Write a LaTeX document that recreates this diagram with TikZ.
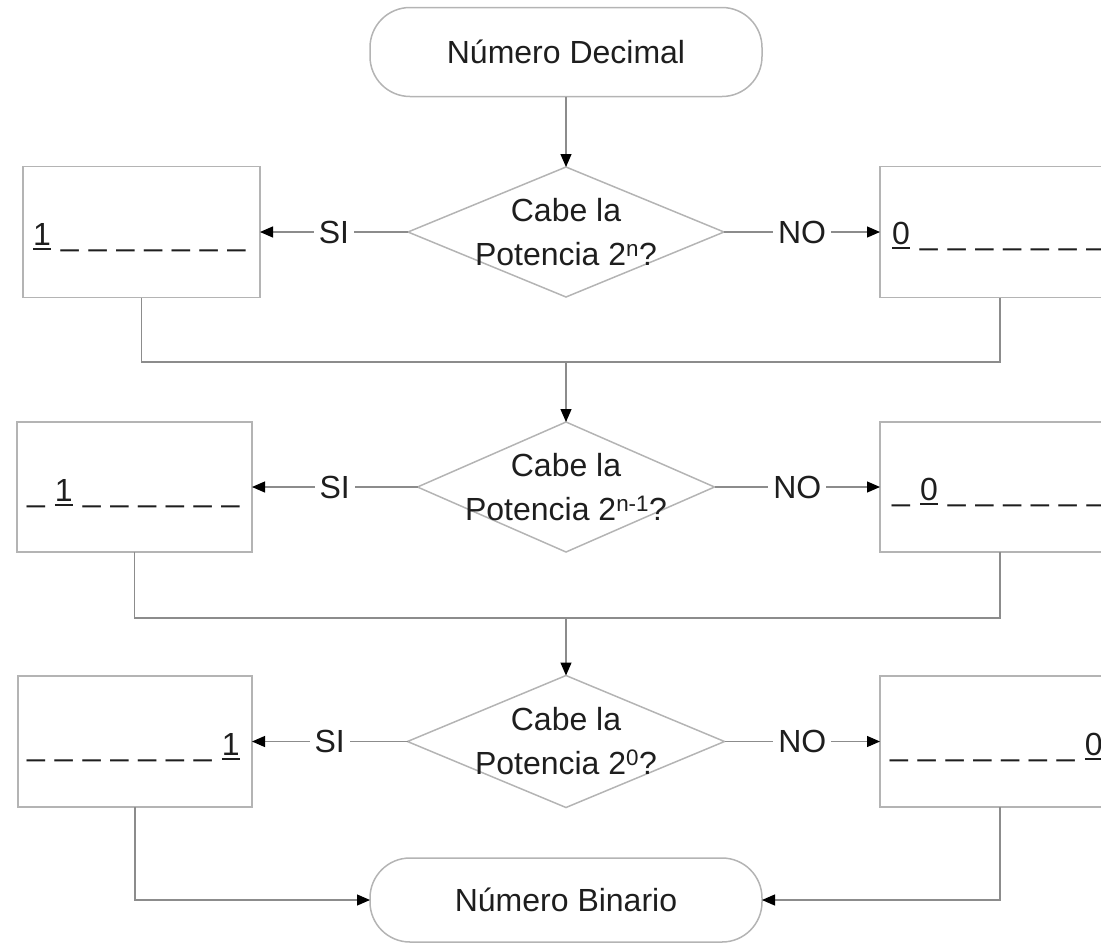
\documentclass[tikz,border=0pt]{standalone}
\usepackage{fontspec}
\setmainfont{Liberation Sans}
\usetikzlibrary{shapes.geometric,arrows.meta}
\definecolor{boxgray}{HTML}{B4B4B4}
\definecolor{linegray}{HTML}{8C8C8C}
\definecolor{txt}{HTML}{1E1E1E}
\newcommand\ubit[1]{\setbox0\hbox{#1}\rlap{\rule[-4.5pt]{\wd0}{1.5pt}}\box0}
\newcommand\gp{\hspace{10pt}}
\begin{document}
\begin{tikzpicture}[x=1pt,y=-1pt,
  every node/.style={font=\fontsize{32}{44}\selectfont, text=txt},
  term/.style={draw=boxgray, line width=1.5pt, rounded corners=40pt, minimum width=392pt, inner sep=0pt, outer sep=0pt},
  dia/.style={diamond, draw=boxgray, line width=1.5pt, inner sep=0pt, outer sep=0pt},
  box/.style={draw=boxgray, line width=1.5pt, inner sep=0pt, outer sep=0pt},
  lbox/.style={box, minimum width=237pt, minimum height=131pt},
  rbox/.style={box, minimum width=240pt, minimum height=131pt},
  dtext/.style={align=center, inner sep=0pt},
  bits/.style={anchor=base west, inner sep=0pt},
  lab/.style={fill=white, inner xsep=5pt, inner ysep=2pt},
  wire/.style={draw=linegray, line width=1.2pt},
  conn/.style={wire, -{Triangle[length=13pt,width=11pt,color=black]}}
]
\useasboundingbox (0,0) rectangle (1101,943);
\clip (0,0) rectangle (1101,943);

% terminators
\node[term, minimum height=89pt] (t1) at (566,52) {Número Decimal};
\node[term, minimum height=84pt] (t2) at (566,900) {Número Binario};

% row 1
\node[dia, minimum width=316pt, minimum height=130pt] (d1) at (566,232) {};
\node[dtext] at (d1.center) {Cabe la\\Potencia 2\textsuperscript{n}?};
\node[lbox] (L1) at (141.5,232) {};
\node[rbox] (R1) at (1000,232) {};
\node[bits] at (33,245) {\ubit{1}\gp\_\gp\_\gp\_\gp\_\gp\_\gp\_\gp\_};
\node[bits] at (892,244) {\ubit{0}\gp\_\gp\_\gp\_\gp\_\gp\_\gp\_\gp\_};

% row 2
\node[dia, minimum width=297pt, minimum height=130pt] (d2) at (566,487) {};
\node[dtext] at (d2.center) {Cabe la\\Potencia 2\textsuperscript{n-1}?};
\node[box, minimum width=235pt, minimum height=130pt] (L2) at (134.5,487) {};
\node[box, minimum width=240pt, minimum height=130pt] (R2) at (1000,487) {};
\node[bits] at (27,501) {\_\gp\ubit{1}\gp\_\gp\_\gp\_\gp\_\gp\_\gp\_};
\node[bits] at (892,500) {\_\gp\ubit{0}\gp\_\gp\_\gp\_\gp\_\gp\_\gp\_};

% row 3
\node[dia, minimum width=317pt, minimum height=132pt] (d3) at (566,741.5) {};
\node[dtext] at (d3.center) {Cabe la\\Potencia 2\textsuperscript{0}?};
\node[box, minimum width=234pt, minimum height=131pt] (L3) at (135,741.5) {};
\node[box, minimum width=240pt, minimum height=131pt] (R3) at (1000,741.5) {};
\node[bits] at (27,755) {\_\gp\_\gp\_\gp\_\gp\_\gp\_\gp\_\gp\ubit{1}};
\node[bits] at (890,755) {\_\gp\_\gp\_\gp\_\gp\_\gp\_\gp\_\gp\ubit{0}};

% merge points
\coordinate (m1) at (566,362);
\coordinate (m2) at (566,618);

% connectors
\draw[conn] (t1.south) -- (d1.north);
\draw[conn] (d1.west) -- node[lab]{SI} (L1.east);
\draw[conn] (d1.east) -- node[lab]{NO} (R1.west);
\draw[wire] (L1.south) |- (m1) -| (R1.south);
\draw[conn] (m1) -- (d2.north);

\draw[conn] (d2.west) -- node[lab]{SI} (L2.east);
\draw[conn] (d2.east) -- node[lab]{NO} (R2.west);
\draw[wire] (L2.south) |- (m2) -| (R2.south);
\draw[conn] (m2) -- (d3.north);

\draw[conn] (d3.west) -- node[lab]{SI} (L3.east);
\draw[conn] (d3.east) -- node[lab]{NO} (R3.west);
\draw[conn] (L3.south) |- (t2.west);
\draw[conn] (R3.south) |- (t2.east);
\end{tikzpicture}
\end{document}
